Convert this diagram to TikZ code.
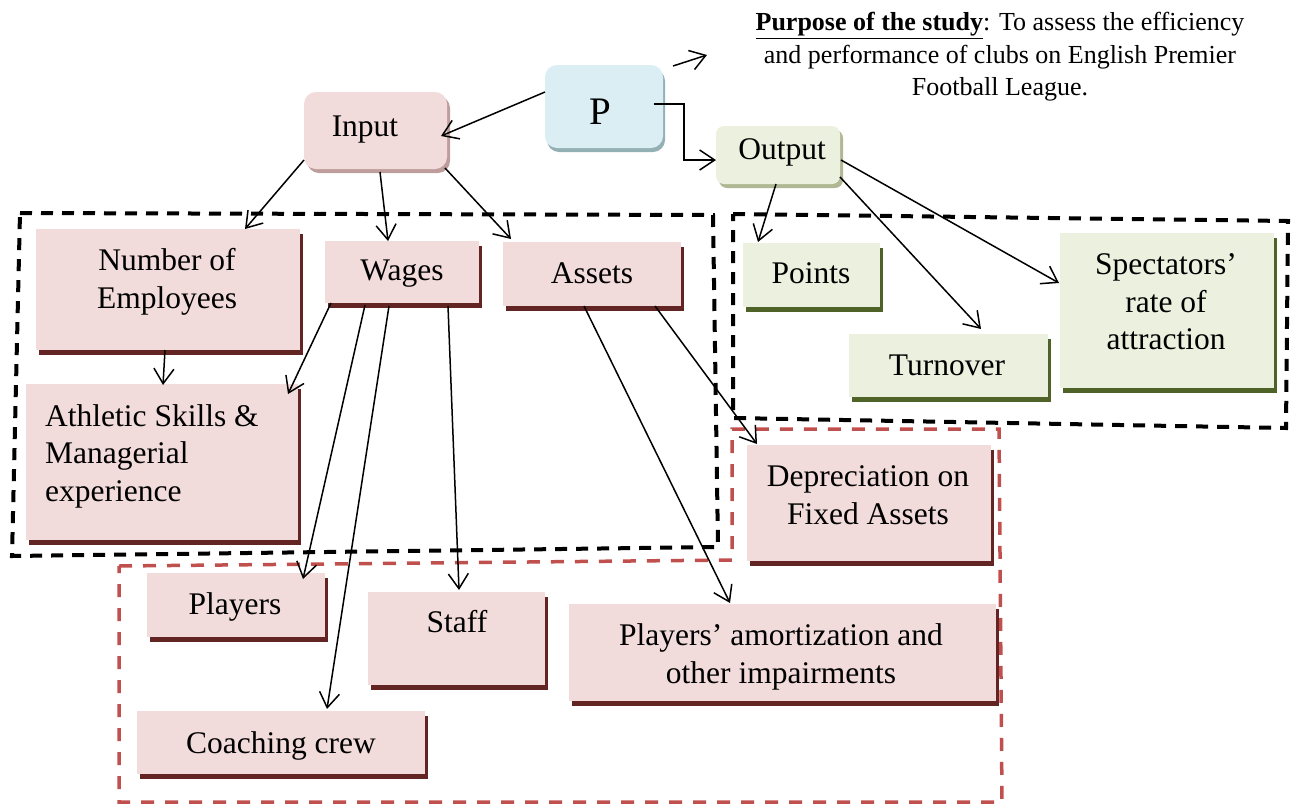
\documentclass[tikz,border=0pt]{standalone}
\usepackage{fontspec}
\setmainfont{Liberation Serif}
\usetikzlibrary{arrows.meta,shadows,calc}
\definecolor{pinkfill}{HTML}{F2DCDB}
\definecolor{maroon}{HTML}{632523}
\definecolor{bluefill}{HTML}{DBEEF3}
\definecolor{blueshadow}{HTML}{93B0B5}
\definecolor{greenfill}{HTML}{EBF1DE}
\definecolor{olive}{HTML}{4F6228}
\definecolor{inshadow}{HTML}{BE9E9C}
\definecolor{outshadow}{HTML}{AFB893}
\definecolor{reddash}{HTML}{C0504D}
\tikzset{
  box/.style={draw=none, anchor=north west, inner sep=0pt, outer sep=0pt},
  pinkbox/.style={box, fill=pinkfill, drop shadow={shadow xshift=3pt, shadow yshift=-5pt, fill=maroon, opacity=1}},
  greenbox/.style={box, fill=greenfill, drop shadow={shadow xshift=3pt, shadow yshift=-5pt, fill=olive, opacity=1}},
  txt/.style={align=center, inner sep=0pt, yshift=-4pt, font=\fontsize{31.5pt}{37.5pt}\selectfont},
  arr/.style={line width=1.5pt, -{Straight Barb[length=15pt,width=20pt]}},
  blackdash/.style={line width=4pt, dash pattern=on 12pt off 9pt},
  reddashed/.style={draw=reddash, line width=3.5pt, dash pattern=on 13pt off 11pt},
}
\begin{document}
\begin{tikzpicture}[x=1pt,y=-1pt]
\useasboundingbox (0,0) rectangle (1291,804);
% dashed groups
\draw[blackdash] (20,213) -- (713,215) -- (718,547) -- (12,556) -- cycle;
\draw[blackdash] (733,214) -- (1288,221) -- (1286,428) -- (733,418) -- cycle;
\draw[reddashed] (119,566) -- (732,560) -- (732,429) -- (999,429) -- (1002,802) -- (119,802) -- cycle;
% top nodes
\node[box, fill=pinkfill, rounded corners=12pt, minimum width=143pt, minimum height=77pt,
  drop shadow={shadow xshift=3pt, shadow yshift=-4pt, fill=inshadow, opacity=1}] (input) at (304,92) {};
\node[txt] (inputt) at (365,126) {Input};
\node[box, fill=bluefill, rounded corners=12pt, minimum width=118pt, minimum height=83pt,
  drop shadow={shadow xshift=2pt, shadow yshift=-4pt, fill=blueshadow, opacity=1}] (P) at (545,65) {};
\node[txt, yshift=2pt, font=\fontsize{39pt}{45pt}\selectfont] (Pt) at (600,110) {P};
\node[box, fill=greenfill, rounded corners=8pt, minimum width=124pt, minimum height=58pt,
  drop shadow={shadow xshift=3pt, shadow yshift=-4pt, fill=outshadow, opacity=1}] (output) at (716,126) {};
\node[txt] (outputt) at (782,148) {Output};
\node[txt, yshift=2pt, font=\fontsize{26pt}{32.5pt}\selectfont] (purpose) at (1000,55)
  {\underline{\textbf{Purpose of the study}}: To assess the efficiency\\and performance of clubs on English Premier\\Football League.};
\coordinate (ptip) at (707,55);
% input group
\node[pinkbox, minimum width=264pt, minimum height=121pt] (noe) at (36,229) {};
\node[txt] (noet) at (167,278) {Number of\\Employees};
\node[pinkbox, minimum width=272pt, minimum height=156pt] (ath) at (26,384) {};
\node[txt, align=left, anchor=west] (atht) at (45,452) {Athletic Skills \&\\Managerial\\experience};
\node[pinkbox, minimum width=154pt, minimum height=62pt] (wages) at (325,241) {};
\node[txt] (wagest) at (402,270) {Wages};
\node[pinkbox, minimum width=178pt, minimum height=64pt] (assets) at (503,242) {};
\node[txt] (assetst) at (592,269) {Assets};
\node[pinkbox, minimum width=244pt, minimum height=116pt] (dep) at (747,445) {};
\node[txt] (dept) at (868,491) {Depreciation on\\Fixed Assets};
\node[pinkbox, minimum width=178pt, minimum height=64pt] (players) at (147,573) {};
\node[txt] (playerst) at (235,603) {Players};
\node[pinkbox, minimum width=177pt, minimum height=93pt] (staff) at (368,592) {};
\node[txt] (stafft) at (457,618) {Staff};
\node[pinkbox, minimum width=427pt, minimum height=97pt] (amort) at (569,604) {};
\node[txt] (amortt) at (781,653) {Players’ amortization and\\other impairments};
\node[pinkbox, minimum width=288pt, minimum height=63pt] (coach) at (137,711) {};
\node[txt] (coacht) at (281,742) {Coaching crew};
% output group
\node[greenbox, minimum width=137pt, minimum height=64pt] (points) at (743,243) {};
\node[txt] (pointst) at (811,269) {Points};
\node[greenbox, minimum width=199pt, minimum height=63pt] (turnover) at (849,334) {};
\node[txt] (turnovert) at (947,361) {Turnover};
\node[greenbox, minimum width=214pt, minimum height=155pt] (spect) at (1060,233) {};
\node[txt] (spectt) at (1166,298) {Spectators’\\rate of\\attraction};
% connectors
\draw[arr] ($(P.north west)+(0,27)$) -- ($(input.north west)+(137,44)$);
\draw[arr] ($(P.north west)+(128,1)$) -- (ptip);
\draw[arr] ($(P.north west)+(109,39)$) -- ++(30,0) |- ($(output.north west)+(0,34)$);
\draw[arr] ($(input.north west)+(0,68)$) -- ($(noe.north west)+(209,0)$);
\draw[arr] ($(input.north west)+(76,80)$) -- ($(wages.north west)+(63,0)$);
\draw[arr] ($(input.north west)+(141,76)$) -- ($(assets.north west)+(8,-3)$);
\draw[arr] ($(noe.north west)+(129,121)$) -- ($(ath.north west)+(137,1)$);
\draw[arr] ($(wages.north west)+(6,62)$) -- ($(ath.north west)+(262,10)$);
\draw[arr] ($(wages.north west)+(40,64)$) -- ($(players.north west)+(156,6)$);
\draw[arr] ($(wages.north west)+(64,65)$) -- ($(coach.north west)+(190,-2)$);
\draw[arr] ($(wages.north west)+(123,65)$) -- ($(staff.north west)+(91,-2)$);
\draw[arr] ($(assets.north west)+(81,64)$) -- ($(amort.north west)+(161,-1)$);
\draw[arr] ($(assets.north west)+(152,64)$) -- ($(dep.north west)+(10,-1)$);
\draw[arr] ($(output.north west)+(60,58)$) -- ($(points.north west)+(15,-1)$);
\draw[arr] ($(output.north west)+(124,51)$) -- ($(turnover.north west)+(132,-5)$);
\draw[arr] ($(output.north west)+(125,34)$) -- ($(spect.north west)+(-1,50)$);
\end{tikzpicture}
\end{document}
